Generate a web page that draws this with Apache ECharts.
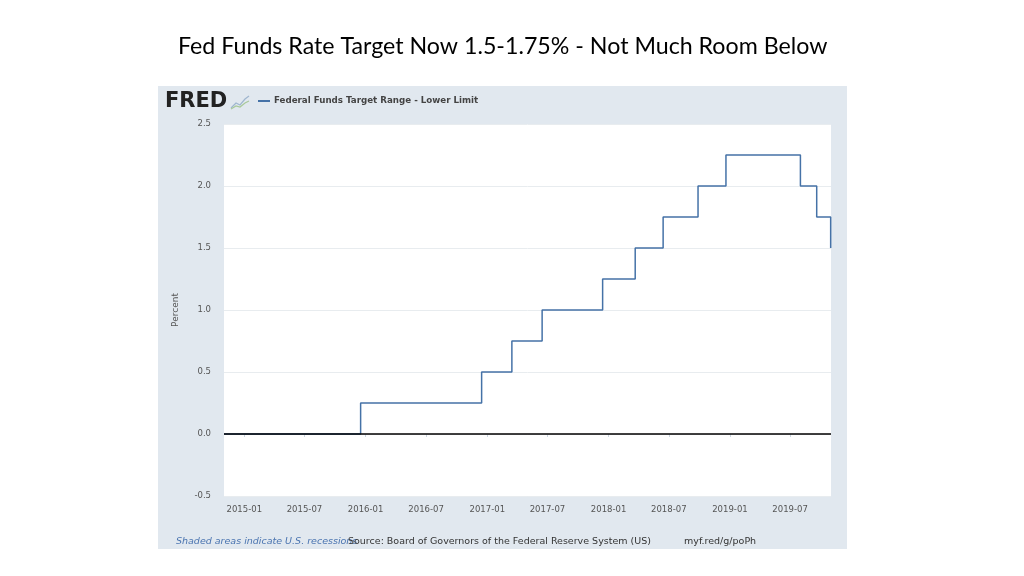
<!DOCTYPE html>
<html>
<head>
<meta charset="utf-8">
<script src="https://cdn.jsdelivr.net/npm/echarts@6/dist/echarts.min.js"></script>
<style>
html,body{margin:0;padding:0;background:#fff;}
#c{width:1024px;height:576px;}
</style>
</head>
<body>
<div id="c"></div>
<script>
// Data: Federal Funds Target Range - Lower Limit (change dates and new values)
const changeDates = ['2014-11-01','2015-12-17','2016-12-15','2017-03-16','2017-06-15','2017-12-14','2018-03-22','2018-06-14','2018-09-27','2018-12-20','2019-08-01','2019-09-19','2019-10-31'];
const lowerLimit  = [0, 0.25, 0.5, 0.75, 1.0, 1.25, 1.5, 1.75, 2.0, 2.25, 2.0, 1.75, 1.5];
const tickLabels = ['2015-01','2015-07','2016-01','2016-07','2017-01','2017-07','2018-01','2018-07','2019-01','2019-07'];
const yTicks = [-0.5, 0, 0.5, 1.0, 1.5, 2.0, 2.5];
const axisStart = '2014-11-01';
const axisEnd = '2019-11-01';

function ts(s){ const p = s.split('-').map(Number); return Date.UTC(p[0], p[1]-1, p[2]||1); }
function pad(n){ return (n<10?'0':'')+n; }

const seriesData = changeDates.map((d,i)=>[ts(d), lowerLimit[i]]);
const tickValues = tickLabels.map(ts);

const chart = echarts.init(document.getElementById('c'), null, {renderer:'canvas'});
const font = 'DejaVu Sans';
chart.setOption({
  animation:false,
  backgroundColor:'#ffffff',
  title:{
    text:'Fed Funds Rate Target Now 1.5-1.75% - Not Much Room Below',
    left:173, top:30,
    textStyle:{fontFamily:'Lato', fontSize:23.2, fontWeight:'normal', color:'#000'}
  },
  graphic:[
    {type:'rect', z:-10, shape:{x:158,y:86,width:689,height:463}, style:{fill:'#e1e8ef'}},
    {type:'rect', z:-9, shape:{x:224,y:124,width:607,height:372}, style:{fill:'#ffffff'}},
    {type:'text', left:165, top:91, style:{text:'FRED', fontFamily:'DejaVu Sans', fontWeight:'bold', fontSize:21, fill:'#222'}},
    {type:'polyline', shape:{points:[[231,108],[236,103],[240,105],[245,99],[249,96]]}, style:{stroke:'#9fb6cf', lineWidth:1.2, fill:null}},
    {type:'polyline', shape:{points:[[231,109],[236,106],[240,107],[245,103],[249,101]]}, style:{stroke:'#a8c99a', lineWidth:1.2, fill:null}},
    {type:'line', shape:{x1:258,y1:101,x2:270,y2:101}, style:{stroke:'#4572a7', lineWidth:2}},
    {type:'text', left:274, top:96, style:{text:'Federal Funds Target Range - Lower Limit', fontFamily:font, fontWeight:'bold', fontSize:8.7, fill:'#444'}},
    {type:'text', left:176, top:537, style:{text:'Shaded areas indicate U.S. recessions', fontFamily:font, fontStyle:'italic', fontSize:9.5, fill:'#4a74b0'}},
    {type:'text', left:348, top:537, style:{text:'Source: Board of Governors of the Federal Reserve System (US)', fontFamily:font, fontSize:9.5, fill:'#333'}},
    {type:'text', left:684, top:537, style:{text:'myf.red/g/poPh', fontFamily:font, fontSize:9.5, fill:'#333'}}
  ],
  grid:{left:224, right:193, top:124, bottom:80, containLabel:false},
  xAxis:{
    type:'value',
    min:ts(axisStart), max:ts(axisEnd),
    axisLine:{show:false},
    axisTick:{show:true, length:3, lineStyle:{color:'#ccd6e0'}, customValues:tickValues},
    splitLine:{show:false},
    axisLabel:{
      customValues:tickValues,
      margin:9,
      fontFamily:font, fontSize:8.5, color:'#555',
      formatter:function(v){ const d=new Date(v); return d.getUTCFullYear()+'-'+pad(d.getUTCMonth()+1); }
    }
  },
  yAxis:{
    type:'value',
    min:yTicks[0], max:yTicks[yTicks.length-1], interval:0.5,
    name:'Percent', nameLocation:'middle', nameGap:44,
    nameTextStyle:{fontFamily:font, fontSize:9, color:'#555'},
    axisLine:{show:false}, axisTick:{show:false},
    axisLabel:{fontFamily:font, fontSize:8.5, color:'#555', margin:13, formatter:function(v){return v.toFixed(1);}},
    splitLine:{lineStyle:{color:'#e8ecef', width:1}}
  },
  series:[{
    type:'line', step:'end', showSymbol:false,
    data:seriesData,
    lineStyle:{color:'#4572a7', width:1.5},
    z:3,
    markLine:{
      silent:true, symbol:['none','none'], label:{show:false},
      lineStyle:{color:'#000', width:1.5, type:'solid'},
      data:[{yAxis:0}],
      z:4
    }
  }]
});
</script>
</body>
</html>
